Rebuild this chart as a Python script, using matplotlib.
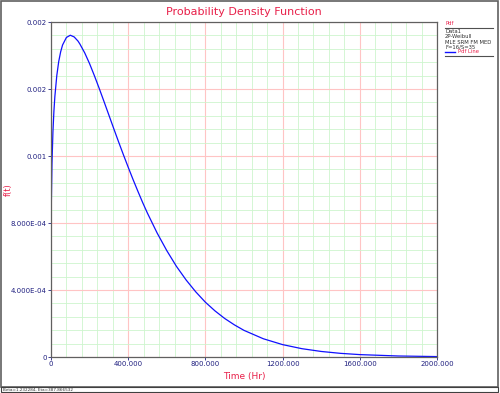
import matplotlib
matplotlib.use("Agg")
import matplotlib.pyplot as plt
from matplotlib.ticker import MultipleLocator, FixedLocator
from matplotlib.patches import Rectangle
from matplotlib.lines import Line2D

# pdf curve (time in hours, f(t))
time_hr = [0, 0.5, 2, 5, 10, 15, 20, 30, 40, 50, 60, 80, 100, 120, 140, 150,
           175, 200, 225, 250, 275, 300, 325, 350, 375, 400, 425, 450, 475,
           500, 550, 600, 650, 700, 750, 800, 850, 900, 950, 1000, 1100, 1200,
           1300, 1400, 1500, 1600, 1800, 2000]
pdf_vals = [0, 0.000677, 0.000933, 0.001151, 0.001344, 0.001466, 0.001555,
            0.001680, 0.001764, 0.001822, 0.001863, 0.001908, 0.001921,
            0.001911, 0.001886, 0.001868, 0.001815, 0.001751, 0.001679,
            0.001603, 0.001524, 0.001444, 0.001364, 0.001285, 0.001208,
            0.001133, 0.001060, 0.000990, 0.000922, 0.000858, 0.000740,
            0.000635, 0.000541, 0.000460, 0.000389, 0.000327, 0.000275,
            0.000230, 0.000192, 0.000159, 0.000109, 0.0000739, 0.0000497,
            0.0000331, 0.0000218, 0.0000143, 0.0000060, 0.0000025]

x_ticks = [0, 400, 800, 1200, 1600, 2000]
x_labels = ["0", "400.000", "800.000", "1200.000", "1600.000", "2000.000"]
y_ticks = [0, 0.0004, 0.0008, 0.0012, 0.0016, 0.002]
y_labels = ["0", "4.000E-04", "8.000E-04", "0.001", "0.002", "0.002"]
legend_lines = ["Data1", "2P-Weibull", "MLE SRM FM MED", "F=16/S=35"]
status_text = "Beta=1.232284, Eta=387.866532"

red = "#e8204a"
tick_col = "#202080"

fig = plt.figure(figsize=(5.0, 3.93), dpi=100)
ax = fig.add_axes([0.102, 0.0916, 0.772, 0.8524])

ax.plot(time_hr, pdf_vals, color="#1010ff", lw=0.9)

ax.set_xlim(0, 2000)
ax.set_ylim(0, 0.002)
ax.xaxis.set_major_locator(FixedLocator(x_ticks))
ax.set_xticklabels(x_labels)
ax.yaxis.set_major_locator(FixedLocator(y_ticks))
ax.set_yticklabels(y_labels)
ax.xaxis.set_minor_locator(MultipleLocator(80))
ax.yaxis.set_minor_locator(MultipleLocator(0.00008))

ax.grid(which="minor", color="#cdf5cd", lw=0.6)
ax.grid(which="major", color="#ffc4c4", lw=0.8)
ax.set_axisbelow(True)

ax.tick_params(which="major", labelsize=5, colors=tick_col, length=2, width=0.6, pad=1)
ax.tick_params(which="minor", length=0)
for sp in ax.spines.values():
    sp.set_color("#606060")
    sp.set_linewidth(0.9)

ax.set_title("Probability Density Function", color=red, fontsize=8, pad=5)
fig.text(0.488, 0.0415, "Time (Hr)", color=red, fontsize=6.5, ha="center", va="center")
fig.text(0.016, 0.517, "f(t)", color=red, fontsize=6, rotation=90, ha="center", va="center")

# outer frame and status strip
fig.patches.append(Rectangle((0.002, 0.016), 0.994, 0.981, transform=fig.transFigure,
                             fill=False, ec="#606060", lw=1.2))
fig.patches.append(Rectangle((0.002, 0.002), 0.994, 0.013, transform=fig.transFigure,
                             fill=False, ec="#404040", lw=0.8))
fig.text(0.006, 0.008, status_text, fontsize=3, color="#303030", va="center")

# legend panel
lx = 0.890
fig.text(lx, 0.939, "Pdf", fontsize=3.8, color=red, va="center")
fig.add_artist(Line2D([lx, 0.985], [0.9288, 0.9288], color="#505050", lw=0.8))
ys = [0.9186, 0.9059, 0.8931, 0.8804]
for y, s in zip(ys, legend_lines):
    fig.text(lx, y, s, fontsize=3.8, color="#303030", va="center")
fig.add_artist(Line2D([lx, lx + 0.02], [0.8677, 0.8677], color="#1010ff", lw=1.0))
fig.text(lx + 0.026, 0.8677, "Pdf Line", fontsize=3.8, color=red, va="center")
fig.add_artist(Line2D([lx, 0.985], [0.8575, 0.8575], color="#505050", lw=0.8))

fig.savefig("out.png", dpi=100)
